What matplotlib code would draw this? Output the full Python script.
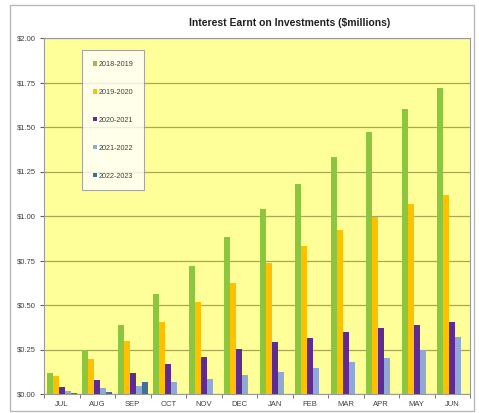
import numpy as np
import matplotlib.pyplot as plt
from matplotlib.patches import Rectangle

plt.rcParams['font.family'] = ['Liberation Sans', 'DejaVu Sans']

months = ['JUL', 'AUG', 'SEP', 'OCT', 'NOV', 'DEC', 'JAN', 'FEB', 'MAR', 'APR', 'MAY', 'JUN']
fy_2018_19 = [0.12, 0.25, 0.39, 0.56, 0.72, 0.88, 1.04, 1.18, 1.33, 1.47, 1.60, 1.72]
fy_2019_20 = [0.10, 0.195, 0.295, 0.405, 0.515, 0.625, 0.735, 0.83, 0.92, 0.995, 1.065, 1.12]
fy_2020_21 = [0.041, 0.079, 0.116, 0.167, 0.21, 0.251, 0.29, 0.316, 0.347, 0.369, 0.388, 0.403]
fy_2021_22 = [0.017, 0.032, 0.045, 0.067, 0.086, 0.107, 0.122, 0.148, 0.18, 0.204, 0.25, 0.318]
fy_2022_23 = [0.008, 0.012, 0.065]

series = [('2018-2019', fy_2018_19, '#8cc63f'),
          ('2019-2020', fy_2019_20, '#ffc000'),
          ('2020-2021', fy_2020_21, '#5f2a91'),
          ('2021-2022', fy_2021_22, '#8fa8d6'),
          ('2022-2023', fy_2022_23, '#3f6f9f')]

fig = plt.figure(figsize=(4.79, 4.13), dpi=100)
fig.patches.append(Rectangle((10 / 479, 1 - 411 / 413), 464 / 479, 406 / 413,
                             transform=fig.transFigure, fill=False,
                             edgecolor='#b8b8b8', linewidth=1))

ax = fig.add_axes([44 / 479, 19 / 413, 426 / 479, 356 / 413])
ax.set_facecolor('#ffff99')

w = 0.17
for k, (name, vals, col) in enumerate(series):
    x = np.arange(len(vals)) + (k - 2) * w
    ax.bar(x, vals, width=w, color=col, label=name, zorder=3)

ax.set_xlim(-0.5, len(months) - 0.5)
ax.set_ylim(0, 2.0)
ax.set_yticks(np.arange(0, 2.01, 0.25))
ax.set_yticklabels(['$%.2f' % v for v in np.arange(0, 2.01, 0.25)])
ax.yaxis.grid(True, color='#a8a850', linewidth=0.9, zorder=1)
ax.set_xticks(range(len(months)))
ax.set_xticklabels(months)
ax.set_xticks(np.arange(-0.5, len(months)), minor=True)
ax.tick_params(axis='x', which='major', length=0, pad=5)
ax.tick_params(axis='x', which='minor', length=3, color='#606060', direction='out')
ax.tick_params(axis='y', length=3, color='#606060', pad=3)
ax.tick_params(labelsize=5.5, labelcolor='#404040')
for s in ax.spines.values():
    s.set_color('#9a9a9a')
    s.set_linewidth(0.8)

fig.text(290 / 479, 1 - 23 / 413, 'Interest Earnt on Investments ($millions)',
         ha='center', va='center', fontsize=7.5, fontweight='bold', color='#202020')

leg = ax.legend(loc='upper left', bbox_to_anchor=(38 / 426, 1 - 12 / 356),
                fontsize=5.2, labelspacing=2.9, handlelength=0.6, handleheight=0.6,
                handletextpad=0.2, borderpad=1.5, frameon=True, fancybox=False,
                borderaxespad=0, labelcolor='#404040')
leg.get_frame().set_edgecolor('#909090')
leg.get_frame().set_linewidth(0.8)
leg.set_zorder(5)

plt.savefig('out.png', dpi=100)
